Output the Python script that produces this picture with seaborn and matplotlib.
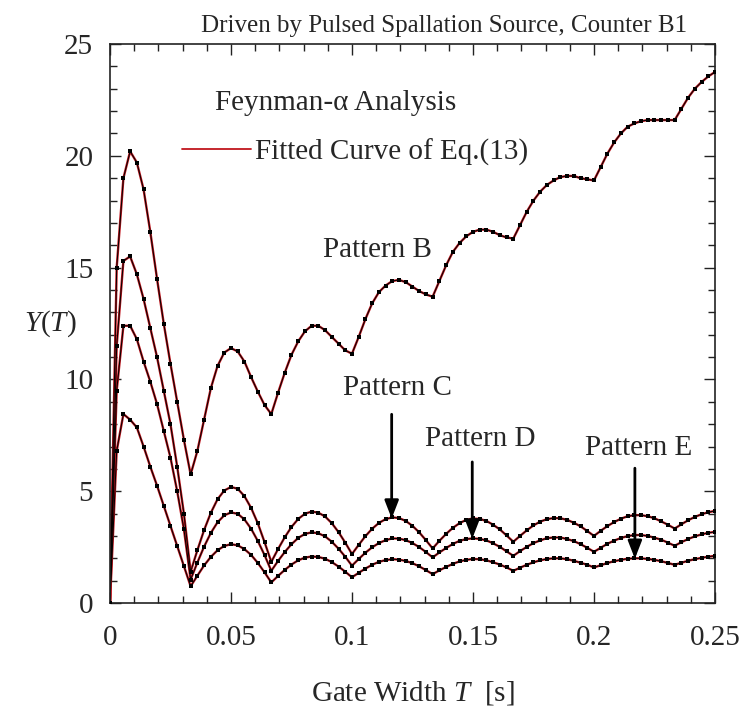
import numpy as np
import pandas as pd
import matplotlib
matplotlib.use("Agg")
import matplotlib.pyplot as plt
import seaborn as sns
from matplotlib.lines import Line2D
from matplotlib.ticker import MultipleLocator, FuncFormatter

# Gate widths: 12 samples per 1/30 s beam-pulse period, 0 .. 0.25 s
gate_width = np.arange(91) / 360.0

pattern_b = [0, 15.0, 19.0, 20.2, 19.7, 18.5, 16.6, 14.5, 12.5, 10.7, 9.0, 7.3, 5.75,
             6.8, 8.2, 9.6, 10.6, 11.2, 11.4, 11.25, 10.8, 10.1, 9.45, 8.85, 8.45,
             9.4, 10.3, 11.1, 11.7, 12.15, 12.4, 12.4, 12.2, 11.9, 11.6, 11.3, 11.15,
             11.9, 12.7, 13.4, 13.9, 14.2, 14.4, 14.45, 14.35, 14.15, 13.95, 13.8, 13.7,
             14.4, 15.1, 15.7, 16.1, 16.4, 16.6, 16.7, 16.7, 16.6, 16.45, 16.35, 16.3,
             16.9, 17.5, 18.0, 18.4, 18.7, 18.9, 19.05, 19.1, 19.1, 19.0, 18.95, 18.9,
             19.5, 20.1, 20.6, 21.0, 21.3, 21.45, 21.55, 21.6, 21.6, 21.6, 21.6, 21.6,
             22.1, 22.6, 23.0, 23.3, 23.55, 23.75]

pattern_c = [0, 11.5, 15.3, 15.5, 14.7, 13.6, 12.3, 11.0, 9.5, 8.0, 6.1, 4.0, 1.4,
             2.36, 3.26, 4.03, 4.64, 5.03, 5.19, 5.11, 4.78, 4.25, 3.56, 2.72, 1.84,
             2.41, 2.94, 3.40, 3.76, 3.99, 4.09, 4.04, 3.87, 3.57, 3.17, 2.70, 2.19,
             2.60, 2.99, 3.32, 3.58, 3.75, 3.83, 3.80, 3.67, 3.45, 3.16, 2.81, 2.44,
             2.78, 3.09, 3.36, 3.57, 3.72, 3.78, 3.76, 3.67, 3.50, 3.29, 3.02, 2.74,
             3.00, 3.25, 3.47, 3.64, 3.75, 3.80, 3.79, 3.72, 3.59, 3.43, 3.22, 3.00,
             3.23, 3.44, 3.62, 3.77, 3.88, 3.93, 3.93, 3.88, 3.79, 3.65, 3.50, 3.33,
             3.52, 3.70, 3.85, 3.97, 4.06, 4.12]

pattern_d = [0, 9.5, 12.4, 12.4, 11.8, 10.8, 9.9, 8.9, 7.7, 6.5, 5.0, 3.3, 1.05,
             1.81, 2.52, 3.13, 3.61, 3.92, 4.05, 3.99, 3.74, 3.32, 2.77, 2.14, 1.44,
             1.88, 2.28, 2.63, 2.91, 3.09, 3.16, 3.12, 2.98, 2.74, 2.43, 2.07, 1.67,
             1.97, 2.25, 2.49, 2.68, 2.81, 2.89, 2.88, 2.81, 2.68, 2.50, 2.28, 2.04,
             2.26, 2.46, 2.64, 2.78, 2.86, 2.89, 2.87, 2.80, 2.67, 2.51, 2.31, 2.11,
             2.32, 2.51, 2.68, 2.80, 2.90, 2.93, 2.93, 2.86, 2.77, 2.63, 2.47, 2.29,
             2.47, 2.65, 2.79, 2.91, 2.99, 3.04, 3.04, 3.00, 2.92, 2.83, 2.70, 2.56,
             2.72, 2.86, 2.98, 3.07, 3.14, 3.18]

pattern_e = [0, 6.8, 8.45, 8.2, 7.85, 7.0, 6.1, 5.25, 4.35, 3.45, 2.55, 1.65, 0.75,
             1.22, 1.68, 2.06, 2.36, 2.55, 2.63, 2.58, 2.41, 2.15, 1.79, 1.37, 0.92,
             1.21, 1.48, 1.72, 1.91, 2.03, 2.08, 2.06, 1.98, 1.83, 1.63, 1.40, 1.15,
             1.35, 1.54, 1.71, 1.84, 1.92, 1.96, 1.94, 1.88, 1.78, 1.64, 1.47, 1.29,
             1.46, 1.61, 1.75, 1.86, 1.93, 1.97, 1.96, 1.91, 1.82, 1.72, 1.59, 1.44,
             1.58, 1.71, 1.82, 1.91, 1.97, 2.00, 2.00, 1.96, 1.89, 1.80, 1.71, 1.59,
             1.69, 1.79, 1.87, 1.93, 1.98, 2.00, 2.00, 1.97, 1.93, 1.87, 1.79, 1.71,
             1.80, 1.89, 1.96, 2.02, 2.07, 2.11]

patterns = {"B": pattern_b, "C": pattern_c, "D": pattern_d, "E": pattern_e}

x_ticks = [0, 0.05, 0.1, 0.15, 0.2, 0.25]
y_ticks = [0, 5, 10, 15, 20, 25]

df = pd.concat(
    [pd.DataFrame({"T": gate_width, "Y": vals, "pattern": name})
     for name, vals in patterns.items()],
    ignore_index=True,
)

sns.set_theme(style="ticks")
plt.rcParams["font.family"] = ["Liberation Serif", "DejaVu Serif"]
plt.rcParams["mathtext.fontset"] = "custom"
plt.rcParams["mathtext.rm"] = "Liberation Serif"
plt.rcParams["mathtext.it"] = "Liberation Serif:italic"

RED = "#c0161e"
FS = 21

fig = plt.figure(figsize=(7.42, 7.16), dpi=100)
ax = fig.add_axes([0.1482, 0.1578, 0.8154, 0.7807])

# fitted curves (red) with the measured points (black) on top
sns.lineplot(data=df, x="T", y="Y", units="pattern", estimator=None, sort=False,
             color=RED, lw=1.7, ax=ax, legend=False, zorder=2)
sns.lineplot(data=df, x="T", y="Y", units="pattern", estimator=None, sort=False,
             color="black", lw=0.7, ax=ax, legend=False, zorder=2.5)
sns.scatterplot(data=df, x="T", y="Y", color="black", marker="s", s=8,
                linewidth=0, ax=ax, legend=False, zorder=3)

ax.set_xlim(0, 0.25)
ax.set_ylim(0, 25)
ax.set_xticks(x_ticks)
ax.set_yticks(y_ticks)
ax.xaxis.set_minor_locator(MultipleLocator(0.01))
ax.yaxis.set_minor_locator(MultipleLocator(1))
ax.xaxis.set_major_formatter(FuncFormatter(lambda v, p: f"{v:g}"))
ax.tick_params(which="both", direction="in", top=True, right=True,
               width=1.0, color="#222222", labelsize=FS)
ax.tick_params(which="major", length=8)
ax.tick_params(which="minor", length=5)
ax.tick_params(axis="x", pad=16)
ax.tick_params(axis="y", pad=12)
for sp in ax.spines.values():
    sp.set_linewidth(1.2)
    sp.set_color("#222222")

ax.set_xlabel(r"Gate Width $T$  [s]", fontsize=FS, labelpad=20)
ax.set_ylabel(r"$Y(T)$", fontsize=FS, rotation=0, labelpad=10, va="center")

fig.text(0.598, 0.964, "Driven by Pulsed Spallation Source, Counter B1",
         fontsize=18, ha="center", va="center")

ax.text(0.0434, 22.37, "Feynman-\u03b1 Analysis", fontsize=FS, ha="left", va="center")
handle = Line2D([], [], color=RED, lw=1.3)
ax.legend([handle], ["Fitted Curve of Eq.(13)"], loc="center left",
          bbox_to_anchor=(0.119, 0.807), frameon=False, fontsize=FS,
          handlelength=2.35, handletextpad=0.15, borderpad=0, borderaxespad=0)

ax.text(0.088, 15.8, "Pattern B", fontsize=FS, ha="left", va="center")
ax.text(0.0963, 9.6, "Pattern C", fontsize=FS, ha="left", va="center")
ax.text(0.1302, 7.33, "Pattern D", fontsize=FS, ha="left", va="center")
ax.text(0.1963, 6.95, "Pattern E", fontsize=FS, ha="left", va="center")

arrow_style = dict(arrowstyle="-|>,head_length=0.9,head_width=0.35",
                   color="black", lw=2.0, shrinkA=0, shrinkB=0)
for x, y0, y1 in [(0.1164, 8.44, 3.78), (0.1497, 6.31, 2.88), (0.2169, 6.03, 1.98)]:
    ax.annotate("", xy=(x, y1), xytext=(x, y0), arrowprops=arrow_style)

fig.savefig("out.png", dpi=100)
